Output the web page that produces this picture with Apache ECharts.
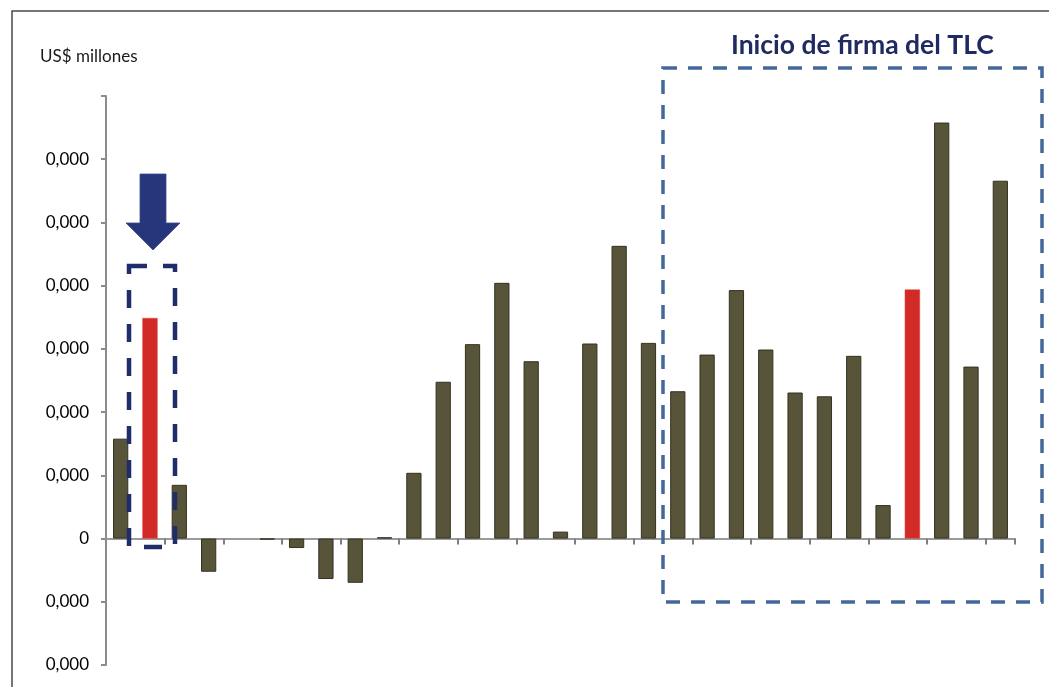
<!DOCTYPE html>
<html>
<head>
<meta charset="utf-8">
<script src="https://cdn.jsdelivr.net/npm/echarts@6/dist/echarts.min.js"></script>
<style>
  html, body { margin: 0; padding: 0; background: #ffffff; }
  #chart { width: 1049px; height: 687px; }
</style>
</head>
<body>
<div id="chart"></div>
<script>
// Periods along the horizontal axis (not labelled on the chart)
const categories = ['1','2','3','4','5','6','7','8','9','10','11','12','13','14','15','16',
  '17','18','19','20','21','22','23','24','25','26','27','28','29','30','31'];

// Values in US$ millions
const values = [1580, 3490, 850, -525, 0, -15, -150, -640, -700, 20, 1040, 2480, 3075, 4045,
  2805, 110, 3085, 4630, 3095, 2330, 2910, 3930, 2990, 2310, 2250, 2890, 530, 3940, 6580,
  2720, 5660];

// Bars drawn in red
const redBars = [1, 27];

// Y tick labels from -2000 up to 7000, step 1000
const yTickValues = [-2000, -1000, 0, 1000, 2000, 3000, 4000, 5000, 6000, 7000];
const yTickLabels = ['0,000', '0,000', '0', '0,000', '0,000', '0,000', '0,000', '0,000', '0,000', ''];

const OLIVE = '#58543a';
const RED = '#d22b27';
const FONT = 'Lato, "Open Sans", sans-serif';

const chart = echarts.init(document.getElementById('chart'), null, { renderer: 'canvas' });

const barData = values.map((v, i) => {
  const isRed = redBars.indexOf(i) >= 0;
  return {
    value: v,
    itemStyle: isRed
      ? { color: RED, borderColor: '#e0463f', borderWidth: 0.5 }
      : { color: OLIVE, borderColor: '#34321f', borderWidth: v === 0 ? 0 : 1 }
  };
});

chart.setOption({
  animation: false,
  backgroundColor: '#ffffff',
  grid: { left: 106, right: 34, top: 96, bottom: 22, containLabel: false },
  xAxis: {
    type: 'category',
    data: categories,
    boundaryGap: true,
    axisLine: { onZero: true, lineStyle: { color: '#9a9a9a', width: 2 } },
    axisTick: {
      show: true,
      inside: false,
      length: 6,
      interval: (index) => index > 0 && index % 2 === 0,
      lineStyle: { color: '#7f7f7f', width: 2 }
    },
    axisLabel: { show: false },
    splitLine: { show: false }
  },
  yAxis: {
    type: 'value',
    min: -2000,
    max: 7000,
    interval: 1000,
    axisLine: { show: true, lineStyle: { color: '#8c8c8c', width: 2 } },
    axisTick: { show: true, length: 5, lineStyle: { color: '#8c8c8c', width: 2 } },
    splitLine: { show: false },
    axisLabel: {
      margin: 17,
      color: '#000000',
      fontFamily: FONT,
      fontSize: 17,
      formatter: (v) => {
        const k = yTickValues.indexOf(v);
        return k >= 0 ? yTickLabels[k] : '';
      }
    }
  },
  series: [{
    type: 'bar',
    data: barData,
    barCategoryGap: '48%',
    silent: true
  }],
  graphic: [
    // outer frame (top and left edges)
    {
      type: 'polyline',
      shape: { points: [[12, 700], [12, 11], [1060, 11]] },
      style: { stroke: '#4a4a4a', lineWidth: 1.5, fill: null }
    },
    // unit caption
    {
      type: 'text',
      left: 40,
      top: 48,
      style: { text: 'US$ millones', font: '17px ' + FONT, fill: '#1a1a1a' }
    },
    // caption above the highlighted period
    {
      type: 'text',
      left: 731,
      top: 32,
      style: { text: 'Inicio de firma del TLC', font: 'bold 26.5px ' + FONT, fill: '#1f2a63' }
    },
    // dashed box over the later periods
    {
      type: 'rect',
      shape: { x: 663, y: 68, width: 379, height: 534 },
      style: { fill: null, stroke: '#44689a', lineWidth: 3.5, lineDash: [14, 11] },
      z: 10
    },
    // dashed box around the early red bar
    {
      type: 'rect',
      shape: { x: 129, y: 266, width: 46, height: 281 },
      style: { fill: null, stroke: '#1f2d6b', lineWidth: 4.5, lineDash: [18, 16] },
      z: 10
    },
    // downward arrow
    {
      type: 'polygon',
      shape: { points: [[140, 174], [166, 174], [166, 223], [180, 223], [153, 250], [126, 223], [140, 223]] },
      style: { fill: '#27357a', stroke: '#3b4a8c', lineWidth: 0.8 },
      z: 10
    }
  ]
});
</script>
</body>
</html>
